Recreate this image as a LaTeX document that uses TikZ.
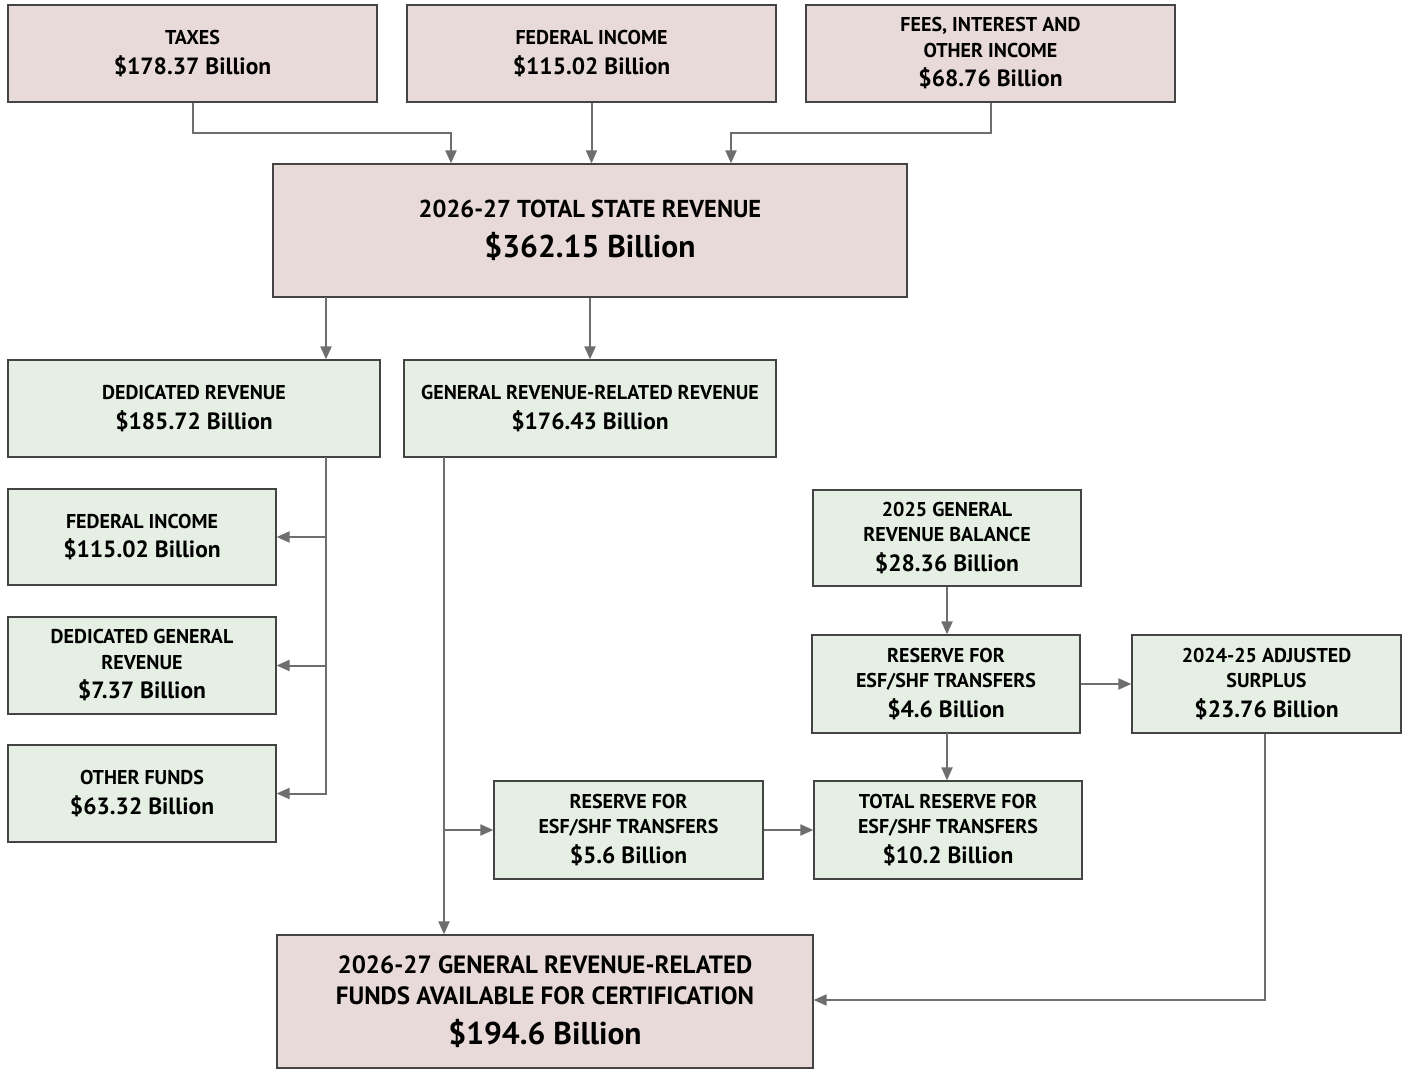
\documentclass[tikz,border=0pt]{standalone}
\usepackage{fontspec}
\setmainfont{PT Sans}
\usetikzlibrary{arrows.meta}
\definecolor{pinkfill}{HTML}{E8DAD8}
\definecolor{greenfill}{HTML}{E6EFE3}
\definecolor{boxline}{HTML}{444444}
\definecolor{arrowgray}{HTML}{6E6E6E}
\newcommand{\amtx}[1]{\\[4pt]\fontsize{23.5}{29}\selectfont #1}
\newcommand{\bigcapt}{\fontsize{24.5}{31}\selectfont}
\newcommand{\fincapt}{\fontsize{25}{31}\selectfont}
\newcommand{\bigamt}[1]{\\[13pt]\fontsize{31.5}{37}\selectfont #1}
\tikzset{
  box/.style={draw=boxline, line width=1.2pt, align=center, inner sep=0pt,
    font=\bfseries\fontsize{20}{25.5}\selectfont},
  pinkbox/.style={box, fill=pinkfill},
  greenbox/.style={box, fill=greenfill},
  arr/.style={draw=arrowgray, line width=2pt, -{Triangle[length=13pt,width=11pt]}},
}
\begin{document}
\begin{tikzpicture}[x=1pt,y=-1pt]
\useasboundingbox (0,0) rectangle (1406,1070);
% top row
\node[pinkbox, minimum width=369pt, minimum height=97pt] (taxes) at (192.5,53.5) {TAXES\amtx{\$178.37 Billion}};
\node[pinkbox, minimum width=369pt, minimum height=97pt] (fedtop) at (591.5,53.5) {FEDERAL INCOME\amtx{\$115.02 Billion}};
\node[pinkbox, minimum width=369pt, minimum height=97pt] (fees) at (990.5,53.5) {FEES, INTEREST AND\\OTHER INCOME\amtx{\$68.76 Billion}};
% total
\node[pinkbox, minimum width=634pt, minimum height=133pt] (total) at (590,230.5) {\bigcapt 2026-27 TOTAL STATE REVENUE\bigamt{\$362.15 Billion}};
% second row
\node[greenbox, minimum width=372pt, minimum height=97pt] (ded) at (194,408.5) {DEDICATED REVENUE\amtx{\$185.72 Billion}};
\node[greenbox, minimum width=372pt, minimum height=97pt] (grr) at (590,408.5) {GENERAL REVENUE-RELATED REVENUE\amtx{\$176.43 Billion}};
% left column
\node[greenbox, minimum width=268pt, minimum height=96pt] (fed2) at (142,537) {FEDERAL INCOME\amtx{\$115.02 Billion}};
\node[greenbox, minimum width=268pt, minimum height=97pt] (dgr) at (142,665.5) {DEDICATED GENERAL\\REVENUE\amtx{\$7.37 Billion}};
\node[greenbox, minimum width=268pt, minimum height=97pt] (other) at (142,793.5) {OTHER FUNDS\amtx{\$63.32 Billion}};
% right column
\node[greenbox, minimum width=268pt, minimum height=96pt] (bal) at (947,538) {2025 GENERAL\\REVENUE BALANCE\amtx{\$28.36 Billion}};
\node[greenbox, minimum width=268pt, minimum height=98pt] (res46) at (946,684) {RESERVE FOR\\ESF/SHF TRANSFERS\amtx{\$4.6 Billion}};
\node[greenbox, minimum width=269pt, minimum height=98pt] (surp) at (1266.5,684) {2024-25 ADJUSTED\\SURPLUS\amtx{\$23.76 Billion}};
\node[greenbox, minimum width=269pt, minimum height=98pt] (res56) at (628.5,830) {RESERVE FOR\\ESF/SHF TRANSFERS\amtx{\$5.6 Billion}};
\node[greenbox, minimum width=268pt, minimum height=98pt] (tres) at (948,830) {TOTAL RESERVE FOR\\ESF/SHF TRANSFERS\amtx{\$10.2 Billion}};
% final
\node[pinkbox, minimum width=536pt, minimum height=133pt] (final) at (545,1001.5) {\fincapt 2026-27 GENERAL REVENUE-RELATED\\[5.5pt]\fincapt FUNDS AVAILABLE FOR CERTIFICATION\bigamt{\$194.6 Billion}};
% coordinates
\coordinate (tx1) at (192.5,133);
\coordinate (tx2) at (451,133);
\coordinate (fe1) at (990.5,133);
\coordinate (fe2) at (731,133);
\coordinate (dtop) at (326,297);
\coordinate (dcol) at (326,457);
\coordinate (gcol) at (444,457);
\coordinate (gbr) at (444,830);
\coordinate (rcol) at (947,733);
\coordinate (scorner) at (1265,1000);
% connectors
\draw[arr] (taxes.south) -- (tx1) -- (tx2) -- (tx2 |- total.north);
\draw[arr] (fedtop.south) -- (fedtop.south |- total.north);
\draw[arr] (fees.south) -- (fe1) -- (fe2) -- (fe2 |- total.north);
\draw[arr] (dtop) -- (dtop |- ded.north);
\draw[arr] (total.south -| grr.north) -- (grr.north);
\draw[arr] (dcol) -- (dcol |- other.east) -- (other.east);
\draw[arr] (dcol |- fed2.east) -- (fed2.east);
\draw[arr] (dcol |- dgr.east) -- (dgr.east);
\draw[arr] (gcol) -- (gcol |- final.north);
\draw[arr] (gbr) -- (res56.west);
\draw[arr] (res56.east) -- (tres.west);
\draw[arr] (bal.south) -- (bal.south |- res46.north);
\draw[arr] (rcol) -- (rcol |- tres.north);
\draw[arr] (res46.east) -- (surp.west);
\draw[arr] (surp.south -| scorner) -- (scorner) -- (scorner -| final.east);
\end{tikzpicture}
\end{document}
